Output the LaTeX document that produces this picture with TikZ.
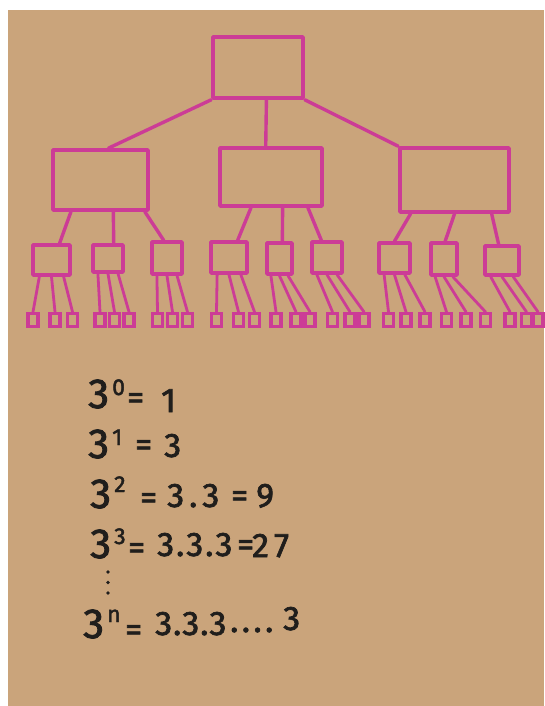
\documentclass[tikz,border=0pt]{standalone}
\usepackage{fontspec}
\setmainfont{Fira Sans}
\newfontfamily\hand{Fira Sans}[FakeBold=2]
\usetikzlibrary{calc}
\definecolor{paper}{RGB}{202,164,123}
\definecolor{marker}{RGB}{204,60,150}
\definecolor{ink}{RGB}{32,30,28}
\begin{document}
\begin{tikzpicture}[x=1pt,y=-1pt,
  box/.style={draw=marker,line width=3.6pt,rectangle,inner sep=0pt,line join=round},
  leaf/.style={draw=marker,line width=3.2pt,rectangle,minimum width=10pt,minimum height=13pt,inner sep=0pt},
  wire/.style={draw=marker,line width=3.4pt,line cap=round},
  twire/.style={draw=marker,line width=2.8pt,line cap=round},
  tok/.style={anchor=base west,inner sep=0pt,text=ink},
  big/.style={font=\hand\fontsize{42}{42}\selectfont},
  mid/.style={font=\hand\fontsize{34}{34}\selectfont},
  sup/.style={font=\hand\fontsize{23}{23}\selectfont}]
\useasboundingbox (0,0) rectangle (544,706);
\fill[white] (0,0) rectangle (544,706);
\fill[paper] (8,10) rectangle (544,706);

% level 0
\node[box,minimum width=90pt,minimum height=61pt] (root) at (258,67.5) {};
% level 1
\node[box,minimum width=95pt,minimum height=60pt] (m1) at (100.5,180) {};
\node[box,minimum width=102pt,minimum height=58pt] (m2) at (271,177) {};
\node[box,minimum width=109pt,minimum height=64pt] (m3) at (454.5,180) {};
% level 2
\node[box,minimum width=37pt,minimum height=30pt] (s1) at (51.5,260) {};
\node[box,minimum width=30pt,minimum height=27pt] (s2) at (108,258.5) {};
\node[box,minimum width=30pt,minimum height=32pt] (s3) at (167,258) {};
\node[box,minimum width=36pt,minimum height=31pt] (s4) at (229,257.5) {};
\node[box,minimum width=25pt,minimum height=31pt] (s5) at (279.5,258.5) {};
\node[box,minimum width=30pt,minimum height=31pt] (s6) at (327,257.5) {};
\node[box,minimum width=31pt,minimum height=30pt] (s7) at (394.5,258) {};
\node[box,minimum width=26pt,minimum height=32pt] (s8) at (444,259) {};
\node[box,minimum width=34pt,minimum height=29pt] (s9) at (502,260.5) {};
% level 3
\foreach \x [count=\i] in {33,55,72.5, 100,114.5,129, 157.5,172.5,187.5,
  216.5,238.5,254.5, 276,296,310, 332.5,350,364,
  388.5,406,425, 446.5,466,485.5, 510,526.5,538}
  \node[leaf] (l\i) at (\x,320) {};

% root connectors
\draw[wire] (root.south west) -- ($(m1.north west)!0.58!(m1.north east)$);
\draw[wire] ($(root.south west)!0.59!(root.south east)$) -- ($(m2.north west)!0.45!(m2.north east)$);
\draw[wire] (root.south east) -- (m3.north west);

% level 1 -> level 2
\foreach \m/\s/\a/\b in {m1/s1/0.2/0.7, m1/s2/0.63/0.67, m1/s3/0.95/0.4,
  m2/s4/0.31/0.72, m2/s5/0.61/0.6, m2/s6/0.85/0.33,
  m3/s7/0.11/0.5, m3/s8/0.5/0.54, m3/s9/0.83/0.41}
  \draw[wire] ($(\m.south west)!\a!(\m.south east)$) -- ($(\s.north west)!\b!(\s.north east)$);

% level 2 -> leaves
\foreach \g in {1,...,9}
  \foreach \k/\f in {0/0.2,1/0.5,2/0.8} {
    \pgfmathtruncatemacro\li{3*\g-2+\k}
    \draw[twire] ($(s\g.south west)!\f!(s\g.south east)$) -- (l\li.north);
  }

% formulas
\node[tok,big] (a1) at (88,408) {3};
\node[tok,sup] (a2) at (112,395) {0};
\node[tok,mid] (a3) at (127,409) {=};
\node[tok,mid] (a4) at (161,412) {1};

\node[tok,big] (b1) at (88,458) {3};
\node[tok,sup] (b2) at (112,445) {1};
\node[tok,mid] (b3) at (135,456) {=};
\node[tok,mid] (b4) at (164,457) {3};

\node[tok,big] (c1) at (90,508) {3};
\node[tok,sup] (c2) at (114,492) {2};
\node[tok,mid] (c3) at (140,509) {=};
\node[tok,mid] (c4) at (167,507) {3\hspace{5pt}.\hspace{5pt}3};
\node[tok,mid] (c5) at (231,507) {=};
\node[tok,mid] (c6) at (256,507) {9};

\node[tok,big] (d1) at (90,558) {3};
\node[tok,sup] (d2) at (114,544) {3};
\node[tok,mid] (d3) at (128,559) {=};
\node[tok,mid] (d4) at (157,556) {3\hspace{2pt}.\hspace{2pt}3\hspace{2pt}.\hspace{2pt}3};
\node[tok,mid] (d5) at (237,556) {=};
\node[tok,mid] (d6) at (252,557) {2\hspace{5pt}7};

\fill[ink] (108,572) circle[radius=1.9pt];
\fill[ink] (108,582.5) circle[radius=1.9pt];
\fill[ink] (108,593) circle[radius=1.9pt];

\node[tok,big] (e1) at (83,638) {3};
\node[tok,sup] (e2) at (107,622) {n};
\node[tok,mid] (e3) at (125,641) {=};
\node[tok,mid] (e4) at (155,635) {3\hspace{1pt}.\hspace{1pt}3\hspace{1pt}.\hspace{1pt}3};
\node[tok,mid] (e5) at (230,632) {.\hspace{3.5pt}.\hspace{3.5pt}.\hspace{3.5pt}.};
\node[tok,mid] (e6) at (283,630) {3};
\end{tikzpicture}
\end{document}
